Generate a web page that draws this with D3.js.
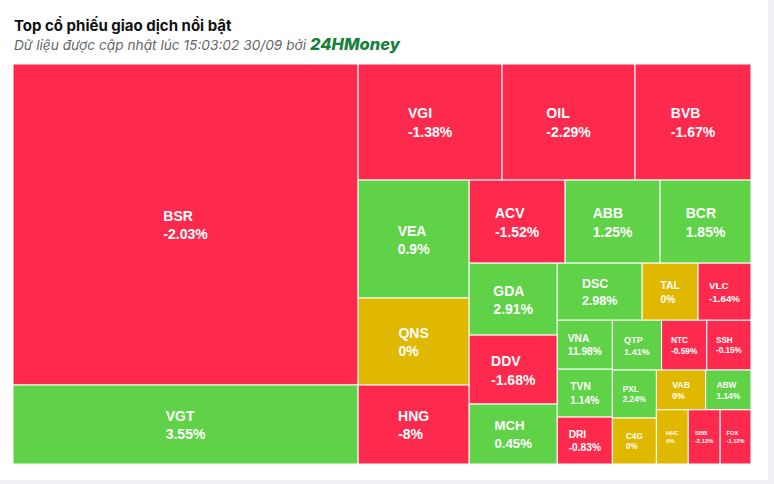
<!DOCTYPE html>
<html>
<head>
<meta charset="utf-8">
<script src="https://cdn.jsdelivr.net/npm/d3@7/dist/d3.min.js"></script>
<style>
  html, body { margin: 0; padding: 0; background: #eef0f3; }
  body { width: 774px; height: 484px; overflow: hidden; }
  svg { display: block; }
</style>
</head>
<body>
<svg id="chart" width="774" height="484"></svg>
<script>
// ---- data ----
const tickers = ["BSR","VGT","VGI","OIL","BVB","VEA","QNS","HNG","ACV","ABB","BCR","GDA","DDV","MCH","DSC","TAL","VLC","VNA","TVN","DRI","QTP","NTC","SSH","PXL","C4G","VAB","ABW","HHC","SBB","FOX"];
const changes = [-2.03,3.55,-1.38,-2.29,-1.67,0.9,0,-8,-1.52,1.25,1.85,2.91,-1.68,0.45,2.98,0,-1.64,11.98,1.14,-0.83,1.41,-0.59,-0.15,2.24,0,0,1.14,0,-2.12,-1.12];
const tradeValues = [110745,27255,16704,15428,13456,13098,9657,8769,7968,7885,7553,6336,6072,5280,4845,3192,3021,2695,2640,2585,2450,2250,2200,2112,2024,1960,1800,1728,1728,1674];
const titleText = "Top cổ phiếu giao dịch nổi bật";
const subtitleText = "Dữ liệu được cập nhật lúc 15:03:02 30/09 bởi ";
const brandText = "24HMoney";

// ---- page ----
const svg = d3.select("#chart");
svg.append("rect").attr("x",0).attr("y",0).attr("width",768).attr("height",480).attr("fill","#ffffff");

svg.append("text").attr("x",14).attr("y",31)
  .attr("font-family","Inter, Roboto, sans-serif").attr("font-weight",700).attr("font-size",15)
  .attr("fill","#111").text(titleText);

const sub = svg.append("text").attr("x",14).attr("y",50)
  .attr("font-family","Inter, Roboto, sans-serif").attr("font-style","italic").attr("font-size",13.7)
  .attr("fill","#666");
sub.append("tspan").text(subtitleText);
sub.append("tspan").attr("font-weight",800).attr("fill","#17803a").attr("font-size",16.5).text(brandText);

// ---- treemap: alternating-strip squarified tiling ----
function aspect(a, b) { return Math.max(a / b, b / a); }
function stripSquarify(parent, x0, y0, x1, y1) {
  const nodes = parent.children;
  const n = nodes.length;
  let remaining = parent.value;
  let dir = 0; // 0 = column (vertical stack), 1 = row
  let i = 0;
  while (i < n) {
    const W = x1 - x0, H = y1 - y0;
    const k = (W * H) / remaining;
    const group = [nodes[i]];
    let tot = nodes[i].value * k;
    let j = i + 1;
    while (j < n) {
      const last = group[group.length - 1].value * k;
      const add = nodes[j].value * k;
      let lR, nR;
      if (dir === 0) {
        const lW = tot / H, nW = (tot + add) / H;
        lR = aspect(last / lW, lW); nR = aspect(last / nW, nW);
      } else {
        const lH = tot / W, nH = (tot + add) / W;
        lR = aspect(last / lH, lH); nR = aspect(last / nH, nH);
      }
      if (nR > lR) break;
      group.push(nodes[j]); tot += add; j++;
    }
    if (dir === 0) {
      const gw = tot / H; let y = y0;
      group.forEach(c => { const h = c.value * k / gw; c.x0 = x0; c.x1 = x0 + gw; c.y0 = y; c.y1 = y + h; y += h; });
      x0 += gw;
    } else {
      const gh = tot / W; let x = x0;
      group.forEach(c => { const w = c.value * k / gh; c.y0 = y0; c.y1 = y0 + gh; c.x0 = x; c.x1 = x + w; x += w; });
      y0 += gh;
    }
    group.forEach(c => { remaining -= c.value; });
    dir = 1 - dir;
    i = j;
  }
}

const X0 = 13, Y0 = 64, W = 738, H = 400;
const data = tickers.map((t,i) => ({ticker:t, change:changes[i], value:tradeValues[i]}));
const root = d3.hierarchy({children:data}).sum(d => d.value || 0).sort((a,b) => b.value - a.value);
d3.treemap().tile(stripSquarify).size([W,H]).round(false)(root);

const color = c => c > 0 ? "#5fd247" : (c < 0 ? "#fe2a4d" : "#e1b800");

const g = svg.append("g").attr("transform",`translate(${X0},${Y0})`);
const cell = g.selectAll("g.cell").data(root.leaves()).join("g").attr("class","cell");
cell.append("rect")
  .attr("x",d=>d.x0).attr("y",d=>d.y0)
  .attr("width",d=>d.x1-d.x0).attr("height",d=>d.y1-d.y0)
  .attr("fill",d=>color(d.data.change))
  .attr("stroke","#ffffff").attr("stroke-width",1);

cell.each(function(d){
  const w = d.x1-d.x0, h = d.y1-d.y0;
  const fs = Math.min(14, 0.185*w, 0.22*h);
  const cx = (d.x0+d.x1)/2, cy = (d.y0+d.y1)/2 + 0.05*fs;
  const sel = d3.select(this);
  const mk = (txt, dy) => sel.append("text").text(txt)
    .attr("font-family","'Liberation Sans', Arial, sans-serif").attr("font-weight",700).attr("font-size",fs)
    .attr("fill","#fff").attr("dominant-baseline","central").attr("y",cy+dy);
  const t1 = mk(d.data.ticker, -0.66*fs);
  const t2 = mk(d.data.change + "%", 0.66*fs);
  const mw = Math.max(t1.node().getComputedTextLength(), t2.node().getComputedTextLength());
  t1.attr("x",cx-mw/2); t2.attr("x",cx-mw/2);
});
</script>
</body>
</html>
